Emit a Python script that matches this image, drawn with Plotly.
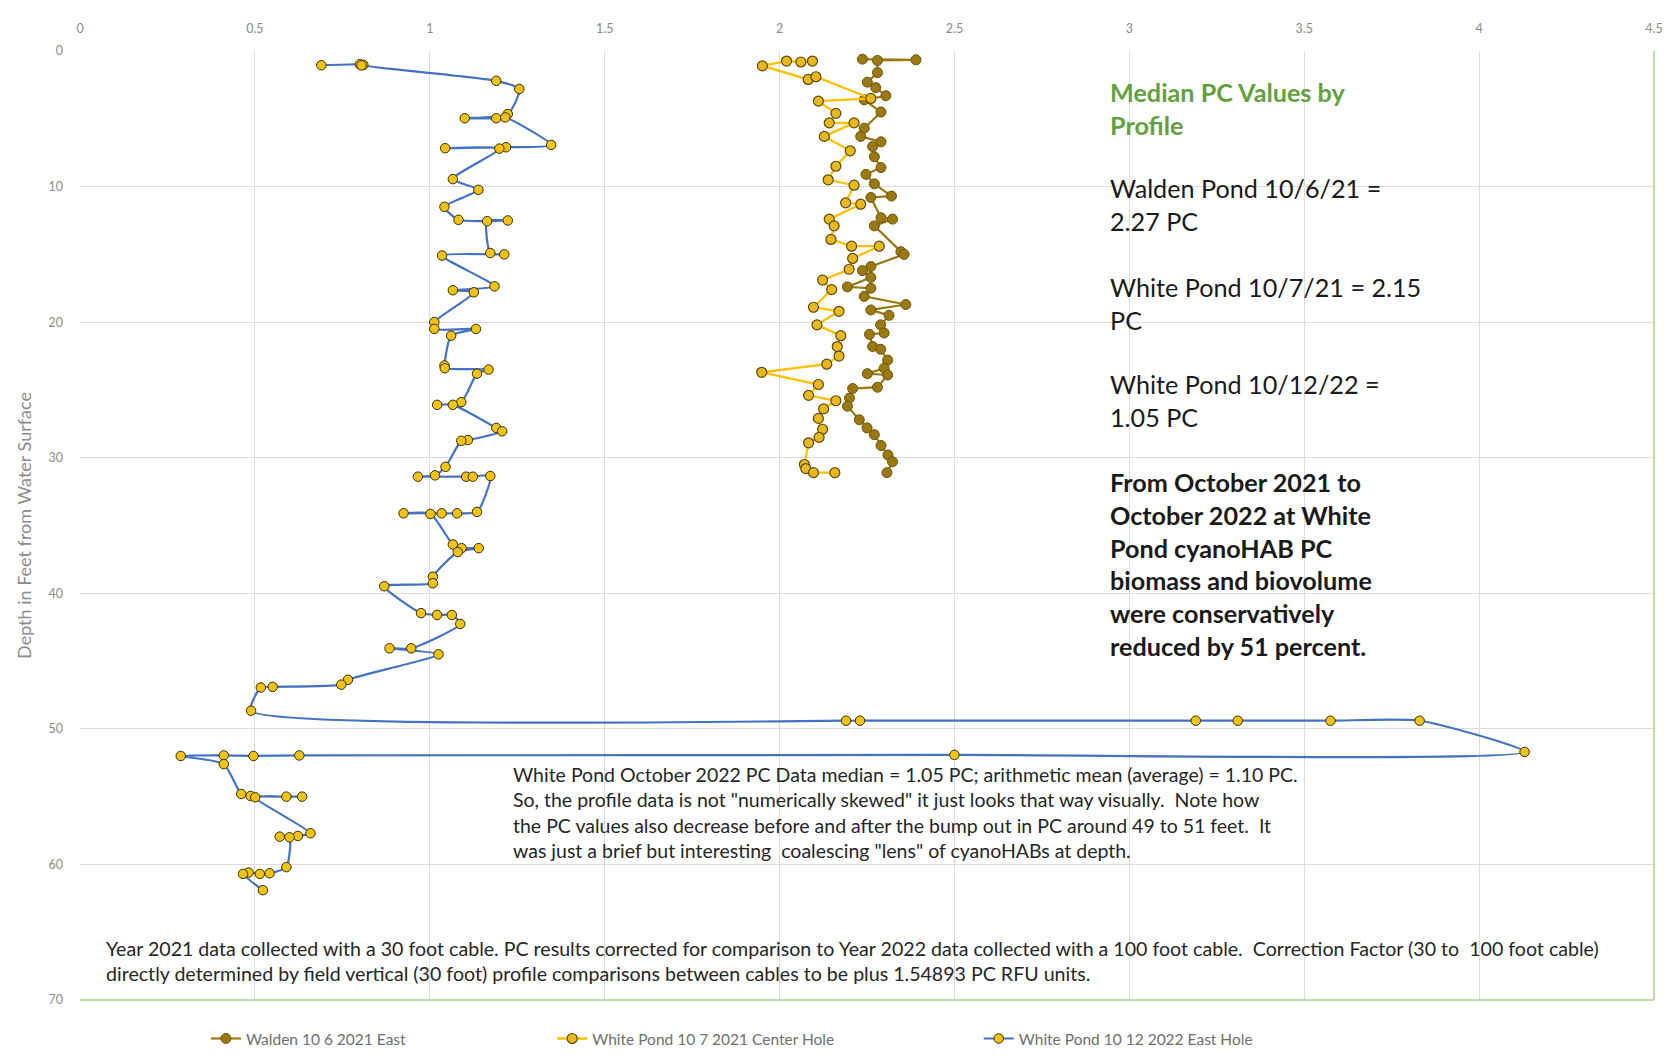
import plotly.graph_objects as go

# ---------------- data ----------------
walden_pc = [2.237, 2.39, 2.28, 2.28, 2.251, 2.275, 2.304, 2.242, 2.29, 2.242, 2.232, 2.29, 2.266,
             2.271, 2.29, 2.247, 2.271, 2.32, 2.261, 2.29, 2.323, 2.271, 2.347, 2.356, 2.261, 2.237,
             2.261, 2.194, 2.261, 2.242, 2.361, 2.261, 2.313, 2.289, 2.299, 2.257, 2.266, 2.289,
             2.309, 2.299, 2.251, 2.309, 2.28, 2.209, 2.20, 2.194, 2.228, 2.25, 2.271, 2.29, 2.31,
             2.323, 2.307]
walden_depth = [0.6, 0.65, 0.7, 1.6, 2.3, 2.7, 3.3, 3.6, 4.5, 5.7, 6.3, 6.7, 7.05,
                7.8, 8.6, 9.1, 9.8, 10.7, 10.8, 12.3, 12.4, 12.9, 14.8, 15.0, 15.9, 16.2,
                16.7, 17.4, 17.5, 18.1, 18.7, 19.1, 19.5, 20.2, 20.8, 20.9, 21.8, 22.0,
                22.8, 23.4, 23.8, 23.9, 24.8, 24.9, 25.6, 26.2, 27.2, 27.8, 28.3, 29.1, 29.8,
                30.3, 31.1]

white21_pc = [2.094, 2.061, 2.020, 1.951, 2.082, 2.104, 2.261, 2.111, 2.161, 2.142, 2.213, 2.128,
              2.202, 2.161, 2.139, 2.213, 2.189, 2.232, 2.142, 2.156, 2.147, 2.206, 2.285, 2.209,
              2.199, 2.123, 2.149, 2.097, 2.170, 2.107, 2.175, 2.165, 2.17, 2.135, 1.949, 2.111,
              2.083, 2.161, 2.126, 2.111, 2.123, 2.113, 2.083, 2.071, 2.075, 2.097, 2.158]
white21_depth = [0.74, 0.81, 0.74, 1.1, 2.1, 1.9, 3.5, 3.7, 4.6, 5.3, 5.3, 6.3,
                 7.36, 8.5, 9.5, 9.9, 11.2, 11.3, 12.4, 12.9, 13.9, 14.4, 14.4, 15.3,
                 16.1, 16.9, 17.6, 18.9, 19.2, 20.2, 21.0, 21.8, 22.5, 23.1, 23.7, 24.6,
                 25.4, 25.8, 26.4, 27.1, 27.9, 28.5, 28.9, 30.5, 30.8, 31.1, 31.1]

white22_pc = [0.69, 0.80, 0.81, 0.805, 1.19, 1.256, 1.223, 1.10, 1.19, 1.216, 1.347, 1.218, 1.044,
              1.199, 1.066, 1.139, 1.042, 1.082, 1.223, 1.164, 1.173, 1.213, 1.035, 1.185, 1.066,
              1.126, 1.013, 1.013, 1.132, 1.061, 1.042, 1.043, 1.168, 1.135, 1.09, 1.021, 1.066,
              1.19, 1.207, 1.109, 1.09, 1.045, 1.015, 0.966, 1.104, 1.123, 1.173, 1.135, 1.078,
              1.034, 0.925, 1.002, 1.066, 1.091, 1.14, 1.08, 1.009, 1.009, 0.87, 0.975, 1.021,
              1.063, 1.087, 0.947, 0.885, 1.025, 0.766, 0.747, 0.551, 0.517, 0.489, 2.19, 2.23,
              3.19, 3.31, 3.575, 3.83, 4.13, 2.5, 0.627, 0.496, 0.411, 0.288, 0.411, 0.461,
              0.488, 0.635, 0.59, 0.501, 0.659, 0.623, 0.571, 0.599, 0.59, 0.542, 0.514, 0.482,
              0.466, 0.523]
white22_depth = [1.05, 0.98, 1.02, 1.06, 2.2, 2.8, 4.65, 4.96, 4.96, 4.9, 6.93, 7.1, 7.17,
                 7.2, 9.45, 10.24, 11.49, 12.45, 12.5, 12.55, 14.9, 15.0, 15.09, 17.36, 17.65,
                 17.8, 20.0, 20.5, 20.5, 21.0, 23.2, 23.4, 23.5, 23.8, 25.9, 26.1, 26.1,
                 27.8, 28.05, 28.7, 28.75, 30.67, 31.3, 31.4, 31.4, 31.4, 31.35, 34.0, 34.1,
                 34.1, 34.1, 34.15, 36.4, 36.67, 36.67, 36.96, 38.78, 39.26, 39.48, 41.46, 41.6,
                 41.6, 42.26, 44.06, 44.06, 44.5, 46.38, 46.74, 46.9, 46.95, 48.66, 49.4, 49.4,
                 49.4, 49.4, 49.4, 49.4, 51.7, 51.92, 51.96, 52.0, 51.96, 52.0, 52.6, 54.8,
                 54.95, 55.0, 55.0, 55.05, 57.7, 57.9, 57.95, 58.0, 60.2, 60.65, 60.7, 60.6,
                 60.7, 61.9]

series_names = ["Walden 10 6 2021 East", "White Pond 10 7 2021 Center Hole",
                "White Pond 10 12 2022 East Hole"]

x_ticks = [0, 0.5, 1, 1.5, 2, 2.5, 3, 3.5, 4, 4.5]
x_tick_text = ["0", "0.5", "1", "1.5", "2", "2.5", "3", "3.5", "4", "4.5"]
y_ticks = [0, 10, 20, 30, 40, 50, 60, 70]

FONT = "Lato"
GRAY = "#8C8C8C"

fig = go.Figure()

fig.add_trace(go.Scatter(
    x=walden_pc, y=walden_depth, mode="lines+markers", name=series_names[0],
    line=dict(color="#9A7812", width=2.2),
    marker=dict(size=10, color="#9A7812", line=dict(color="#6E5608", width=1)),
    legend="legend"))

fig.add_trace(go.Scatter(
    x=white21_pc, y=white21_depth, mode="lines+markers", name=series_names[1],
    line=dict(color="#FFC000", width=2.3),
    marker=dict(size=10, color="#E9B81E", line=dict(color="#5E4A08", width=1.2)),
    legend="legend2"))

fig.add_trace(go.Scatter(
    x=white22_pc, y=white22_depth, mode="lines+markers", name=series_names[2],
    line=dict(color="#4472C4", width=2.2, shape="spline", smoothing=0.6),
    marker=dict(size=9.5, color="#F2C314", line=dict(color="#3A3000", width=1)),
    legend="legend3"))

# ---------------- text ----------------
ann = []
def add_text(txt, x, y, size, color, bold=False, xanchor="left"):
    ann.append(dict(text=("<b>%s</b>" % txt) if bold else txt, x=x, y=y, xref="x", yref="y",
                    xanchor=xanchor, yanchor="top", showarrow=False, align="left",
                    font=dict(family=FONT, size=size, color=color)))

RS = 25.2
add_text("Median PC Values by<br>Profile", 2.94, 1.75, RS, "#64A040", bold=True)
add_text("Walden Pond 10/6/21 =<br>2.27 PC", 2.94, 8.88, RS, "#1A1A1A")
add_text("White Pond 10/7/21 = 2.15<br>PC", 2.94, 16.12, RS, "#1A1A1A")
add_text("White Pond 10/12/22 =<br>1.05 PC", 2.94, 23.33, RS, "#1A1A1A")
add_text("From October 2021 to<br>October 2022 at White<br>Pond cyanoHAB PC<br>biomass and biovolume"
         "<br>were conservatively<br>reduced by 51 percent.", 2.94, 30.56, RS, "#1A1A1A", bold=True)
add_text("White Pond October 2022 PC Data median = 1.05 PC; arithmetic mean (average) = 1.10 PC.<br>"
         "So, the profile data is not \"numerically skewed\" it just looks that way visually.  Note how<br>"
         "the PC values also decrease before and after the bump out in PC around 49 to 51 feet.  It<br>"
         "was just a brief but interesting  coalescing \"lens\" of cyanoHABs at depth.",
         1.233, 52.4, 19.5, "#262626")
add_text("Year 2021 data collected with a 30 foot cable. PC results corrected for comparison to Year 2022 "
         "data collected with a 100 foot cable.  Correction Factor (30 to  100 foot cable)<br>"
         "directly determined by field vertical (30 foot) profile comparisons between cables to be plus "
         "1.54893 PC RFU units.", 0.068, 65.17, 19.6, "#262626")

legend_common = dict(orientation="h", yanchor="middle", y=-0.041, xanchor="left",
                     bgcolor="rgba(0,0,0,0)", font=dict(family=FONT, size=15.5, color="#6F6F6F"),
                     itemwidth=30)

fig.update_layout(
    width=1673, height=1060,
    margin=dict(l=72, r=27, t=37, b=50),
    paper_bgcolor="white", plot_bgcolor="white",
    font=dict(family=FONT, color=GRAY),
    showlegend=True,
    legend=dict(**legend_common, x=0.080),
    legend2=dict(**legend_common, x=0.300),
    legend3=dict(**legend_common, x=0.571),
    annotations=ann,
    xaxis=dict(range=[0, 4.5], side="top", tickvals=x_ticks, ticktext=x_tick_text,
               showgrid=True, gridcolor="#DCDCDC", gridwidth=1, zeroline=False,
               showline=False, ticks="", ticklabelstandoff=15,
               tickfont=dict(family=FONT, size=12.5, color=GRAY)),
    yaxis=dict(range=[70, 0], tickvals=y_ticks, showgrid=True, gridcolor="#DCDCDC",
               gridwidth=1, zeroline=False, showline=False, ticks="", ticklabelstandoff=16,
               tickfont=dict(family=FONT, size=12.5, color=GRAY),
               title=dict(text="Depth in Feet from Water Surface", standoff=12,
                          font=dict(family=FONT, size=18, color=GRAY))),
    shapes=[
        dict(type="line", xref="paper", yref="paper", x0=0, x1=1, y0=0, y1=0,
             line=dict(color="#A9D18E", width=1.5)),
        dict(type="line", xref="paper", yref="paper", x0=1, x1=1, y0=0, y1=1,
             line=dict(color="#A9D18E", width=1.5)),
    ],
)

fig.write_html("out.html")
